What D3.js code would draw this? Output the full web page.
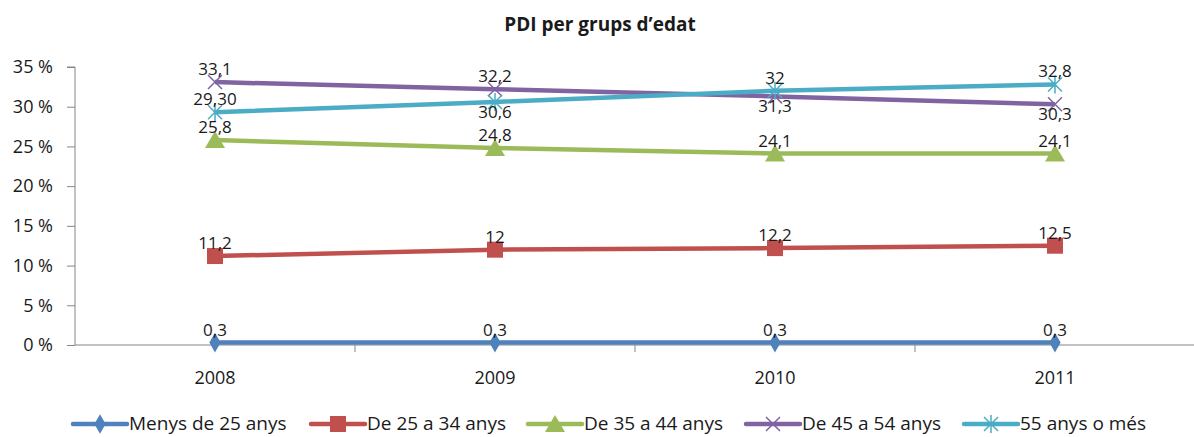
<!DOCTYPE html>
<html>
<head>
<meta charset="utf-8">
<title>PDI per grups d'edat</title>
<script src="https://cdn.jsdelivr.net/npm/d3@7/dist/d3.min.js"></script>
<style>
  body { margin: 0; background: #fff; }
  svg text { font-family: "Open Sans", "Liberation Sans", Arial, sans-serif; fill: #1a1a1a; }
</style>
</head>
<body>
<svg id="chart" width="1194" height="437"></svg>
<script>
var years = ["2008", "2009", "2010", "2011"];
var yTicks = [0, 5, 10, 15, 20, 25, 30, 35];
var seriesNames = ["Menys de 25 anys", "De 25 a 34 anys", "De 35 a 44 anys", "De 45 a 54 anys", "55 anys o més"];
var menys25 = [0.3, 0.3, 0.3, 0.3];
var de25a34 = [11.2, 12, 12.2, 12.5];
var de35a44 = [25.8, 24.8, 24.1, 24.1];
var de45a54 = [33.1, 32.2, 31.3, 30.3];
var mes55 = [29.3, 30.6, 32, 32.8];
// texts as printed on the chart
var labels55 = ["29,30", "30,6", "32", "32,8"];
// label placement: 1 = above, -1 = below
var place45 = [1, 1, -1, -1];
var place55 = [1, -1, 1, 1];

var colors = ["#4f81bd", "#c0504d", "#9bbb59", "#8064a2", "#4bacc6"];
var shapes = ["diamond", "square", "triangle", "x", "star"];

var series = [
  { name: seriesNames[0], values: menys25, place: [1,1,1,1] },
  { name: seriesNames[1], values: de25a34, place: [1,1,1,1] },
  { name: seriesNames[2], values: de35a44, place: [1,1,1,1] },
  { name: seriesNames[3], values: de45a54, place: place45 },
  { name: seriesNames[4], values: mes55, place: place55, text: labels55 }
];

var svg = d3.select("#chart");
var fs = "18px";

var x = d3.scaleBand().domain(years).range([75, 1195]);
var y = d3.scaleLinear().domain([0, 35]).range([345, 67]);

// title
svg.append("text")
  .attr("x", 600).attr("y", 31)
  .attr("text-anchor", "middle")
  .style("font-weight", "bold")
  .style("font-size", "19px")
  .text("PDI per grups d’edat");

// y axis
var yAxis = svg.append("g").attr("transform", "translate(75,0)")
  .call(d3.axisLeft(y).tickValues(yTicks).tickSize(8).tickFormat(function(d) { return d + " %"; }));
yAxis.select(".domain").attr("stroke", "#868686").attr("d", "M-8," + y(35) + "H0V" + y(0));
yAxis.selectAll(".tick line").attr("stroke", "#868686");
yAxis.selectAll(".tick text").attr("x", -22).style("font-size", fs).attr("fill", "#1a1a1a");

// x axis
var xAxis = svg.append("g").attr("transform", "translate(0,345)");
xAxis.append("line").attr("x1", 75).attr("x2", 1194).attr("y1", 0).attr("y2", 0)
  .attr("stroke", "#868686");
xAxis.selectAll("line.tk").data(years.slice(1)).enter().append("line")
  .attr("class", "tk")
  .attr("x1", function(d) { return x(d); }).attr("x2", function(d) { return x(d); })
  .attr("y1", 0).attr("y2", 7).attr("stroke", "#868686");
xAxis.selectAll("text").data(years).enter().append("text")
  .attr("x", function(d) { return x(d) + x.bandwidth() / 2; })
  .attr("y", 39)
  .attr("text-anchor", "middle")
  .style("font-size", fs)
  .text(function(d) { return d; });

function cx(i) { return x(years[i]) + x.bandwidth() / 2; }

function drawMarker(g, shape, color) {
  if (shape === "diamond") {
    g.append("path").attr("d", d3.symbol().type(d3.symbolDiamond).size(110)()).attr("fill", color);
  } else if (shape === "square") {
    g.append("rect").attr("x", -8).attr("y", -8).attr("width", 16).attr("height", 16).attr("fill", color);
  } else if (shape === "triangle") {
    g.append("path").attr("d", "M0,-9L10,8H-10Z").attr("fill", color);
  } else if (shape === "x") {
    g.append("path").attr("d", "M-7,-7L7,7M-7,7L7,-7").attr("stroke", color).attr("stroke-width", 1.5).attr("fill", "none");
  } else {
    g.append("path").attr("d", "M-7,-7L7,7M-7,7L7,-7M0,-9V9").attr("stroke", color).attr("stroke-width", 1.5).attr("fill", "none");
  }
}

var line = d3.line().x(function(d, i) { return cx(i); }).y(function(d) { return y(d); });

series.forEach(function(s, k) {
  var g = svg.append("g");
  g.append("path").datum(s.values).attr("d", line)
    .attr("fill", "none").attr("stroke", colors[k]).attr("stroke-width", 4.5)
    .attr("stroke-linejoin", "round");
  s.values.forEach(function(v, i) {
    var m = g.append("g").attr("transform", "translate(" + cx(i) + "," + y(v) + ")");
    drawMarker(m, shapes[k], colors[k]);
  });
});

// data labels on top
series.forEach(function(s, k) {
  svg.append("g").selectAll("text").data(s.values).enter().append("text")
    .attr("x", function(d, i) { return cx(i); })
    .attr("y", function(d, i) { return s.place[i] > 0 ? y(d) - 7 : y(d) + 16; })
    .attr("text-anchor", "middle")
    .style("font-size", "17px")
    .text(function(d, i) { return s.text ? s.text[i] : String(d).replace(".", ","); });
});

// legend
var legendX = [73, 311, 528, 746, 964];
var legend = svg.append("g").attr("transform", "translate(0,424)");
series.forEach(function(s, k) {
  var lg = legend.append("g").attr("transform", "translate(" + legendX[k] + ",0)");
  lg.append("line").attr("x1", 0).attr("x2", 54).attr("stroke", colors[k]).attr("stroke-width", 4.5)
    .attr("stroke-linecap", "round");
  var m = lg.append("g").attr("transform", "translate(27,0)");
  drawMarker(m, shapes[k], colors[k]);
  lg.append("text").attr("x", 56).attr("y", 6).style("font-size", "19px").text(s.name);
});
</script>
</body>
</html>
